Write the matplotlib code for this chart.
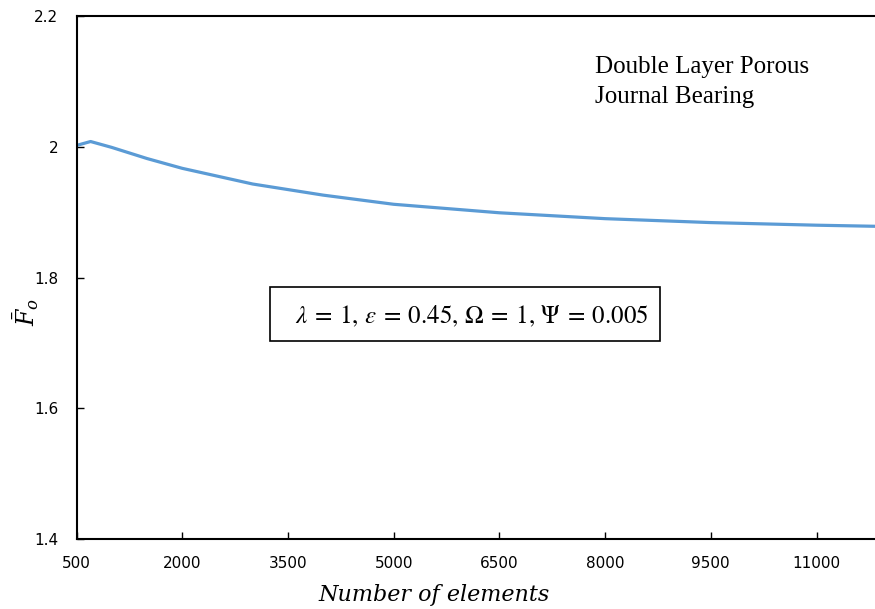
import numpy as np
import matplotlib.pyplot as plt
from matplotlib.patches import Rectangle

# valores
elementos = [500, 700, 1000, 1500, 2000, 3000, 4000, 5000, 6500, 8000, 9500, 11000, 12000]
forca = [2.002, 2.008, 1.999, 1.982, 1.967, 1.943, 1.926, 1.912, 1.899, 1.890, 1.884, 1.880, 1.878]
xticks = [500, 2000, 3500, 5000, 6500, 8000, 9500, 11000]
yticks = [1.4, 1.6, 1.8, 2.0, 2.2]
yticklabels = ['1.4', '1.6', '1.8', '2', '2.2']

fonte_ticks = ['Liberation Sans Narrow', 'DejaVu Sans']
W, H = 875, 609

fig = plt.figure(figsize=(W / 100, H / 100), dpi=100)
ax = fig.add_axes([76.5 / W, 1 - 539 / H, 1 - 76.5 / W, 523 / H])

ax.plot(elementos, forca, color='#5B9BD5', lw=2.3, solid_capstyle='round')

ax.set_xlim(500, 11830)
ax.set_ylim(1.4, 2.2)
ax.set_xticks(xticks)
ax.set_yticks(yticks)
ax.set_yticklabels(yticklabels)
for lab in ax.get_xticklabels() + ax.get_yticklabels():
    lab.set_family(fonte_ticks)
    lab.set_fontsize(11)
ax.tick_params(direction='in', length=5, width=1, colors='black')
ax.tick_params(axis='x', pad=12)
ax.tick_params(axis='y', pad=13)

for lado in ['left', 'bottom', 'top']:
    ax.spines[lado].set_linewidth(1.5)
ax.spines['right'].set_visible(False)

# rótulos dos eixos
fig.text(434 / W, 1 - 595 / H, 'Number of elements', fontsize=16, style='italic',
         family=['DejaVu Serif'], ha='center', va='center')
fig.text(26 / W, 1 - 312 / H, r'$\bar{F}_o$', fontsize=17,
         math_fontfamily='dejavuserif', rotation=90, ha='center', va='center')

fig.text(595 / W, 1 - 56 / H, 'Double Layer Porous\nJournal Bearing',
         fontsize=18, family=['Liberation Serif'], va='top', ha='left',
         linespacing=1.45)

# caixa de parâmetros
fig.patches.append(Rectangle((270 / W, 1 - 341 / H), 390 / W, 54 / H,
                             transform=fig.transFigure, fc='white', ec='black',
                             lw=1.2, zorder=5))
fig.text(472 / W, 1 - 316 / H,
         r'$\lambda\:=\:1,\,\varepsilon\:=\:0.45,\,\Omega\:=\:1,\,\Psi\:=\:0.005$',
         fontsize=18, math_fontfamily='stix', ha='center', va='center', zorder=6)

plt.savefig('out.png', dpi=100)
